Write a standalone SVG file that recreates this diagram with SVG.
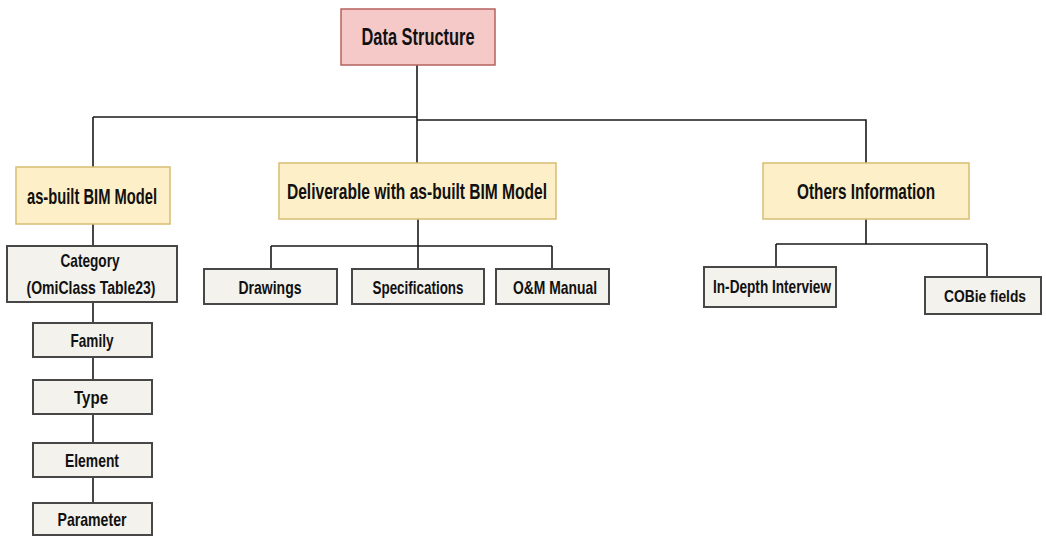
<svg xmlns="http://www.w3.org/2000/svg" width="1046" height="536" viewBox="0 0 1046 536">
<style>
text{font-family:"Liberation Sans",Arial,sans-serif;font-weight:bold;fill:#111111;text-anchor:middle;dominant-baseline:central}
.root rect{fill:#f4c9c8;stroke:#b5625f;stroke-width:1.5}
.mid rect{fill:#fdf0c8;stroke:#d7bc72;stroke-width:1.5}
.leaf rect{fill:#f4f2ec;stroke:#474747;stroke-width:2}
.t1{font-size:23px}
.t2{font-size:22px}
.t3{font-size:19px}
.t4{font-size:16px}
#connectors path{fill:none;stroke:#1a1a1a;stroke-width:1.6}
</style>
<rect width="1046" height="536" fill="#ffffff"/>
<g id="connectors">
<path d="M417 65 V163"/>
<path d="M93 117 H417"/>
<path d="M417 120 H866 V163"/>
<path d="M93 117 V167"/>
<path d="M93 224 V246 M93 302 V323 M93 357 V380 M93 414 V443 M93 477 V503"/>
<path d="M418 219 V246 M271 246 H552 M271 246 V269 M418 246 V269 M552 246 V269"/>
<path d="M866 219 V244 M776 244 H987 M776 244 V267 M987 244 V277"/>
</g>
<g id="root" class="root"><rect x="341" y="9" width="154" height="56"/><text class="t1" x="418" y="37" textLength="113" lengthAdjust="spacingAndGlyphs">Data Structure</text></g>
<g id="asbuilt" class="mid"><rect x="16" y="167" width="154" height="57"/><text class="t2" x="92" y="196" textLength="130" lengthAdjust="spacingAndGlyphs">as-built BIM Model</text></g>
<g id="deliverable" class="mid"><rect x="279" y="163" width="277" height="56"/><text class="t2" x="417" y="191" textLength="260" lengthAdjust="spacingAndGlyphs">Deliverable with as-built BIM Model</text></g>
<g id="others" class="mid"><rect x="763" y="163" width="206" height="56"/><text class="t2" x="866" y="191" textLength="138" lengthAdjust="spacingAndGlyphs">Others Information</text></g>
<g id="category" class="leaf"><rect x="7" y="246" width="170" height="56"/><text class="t3" x="90" y="260" textLength="59" lengthAdjust="spacingAndGlyphs">Category</text><text class="t3" x="91" y="287" textLength="129" lengthAdjust="spacingAndGlyphs">(OmiClass Table23)</text></g>
<g id="family" class="leaf"><rect x="33" y="323" width="119" height="34"/><text class="t3" x="92" y="340" textLength="43" lengthAdjust="spacingAndGlyphs">Family</text></g>
<g id="type" class="leaf"><rect x="33" y="380" width="119" height="34"/><text class="t3" x="91" y="397" textLength="34" lengthAdjust="spacingAndGlyphs">Type</text></g>
<g id="element" class="leaf"><rect x="33" y="443" width="119" height="34"/><text class="t3" x="92" y="460" textLength="54" lengthAdjust="spacingAndGlyphs">Element</text></g>
<g id="parameter" class="leaf"><rect x="33" y="503" width="119" height="32"/><text class="t3" x="92" y="519" textLength="69" lengthAdjust="spacingAndGlyphs">Parameter</text></g>
<g id="drawings" class="leaf"><rect x="204" y="269" width="133" height="35"/><text class="t3" x="270" y="287" textLength="63" lengthAdjust="spacingAndGlyphs">Drawings</text></g>
<g id="specifications" class="leaf"><rect x="352" y="269" width="132" height="35"/><text class="t3" x="418" y="287" textLength="91" lengthAdjust="spacingAndGlyphs">Specifications</text></g>
<g id="om" class="leaf"><rect x="496" y="269" width="113" height="35"/><text class="t3" x="555" y="287" textLength="84" lengthAdjust="spacingAndGlyphs">O&amp;M Manual</text></g>
<g id="indepth" class="leaf"><rect x="704" y="267" width="132" height="40"/><text class="t3" x="772" y="286" textLength="118" lengthAdjust="spacingAndGlyphs">In-Depth Interview</text></g>
<g id="cobie" class="leaf"><rect x="925" y="277" width="116" height="37"/><text class="t4" x="985" y="296" textLength="82" lengthAdjust="spacingAndGlyphs">COBie fields</text></g>
</svg>
